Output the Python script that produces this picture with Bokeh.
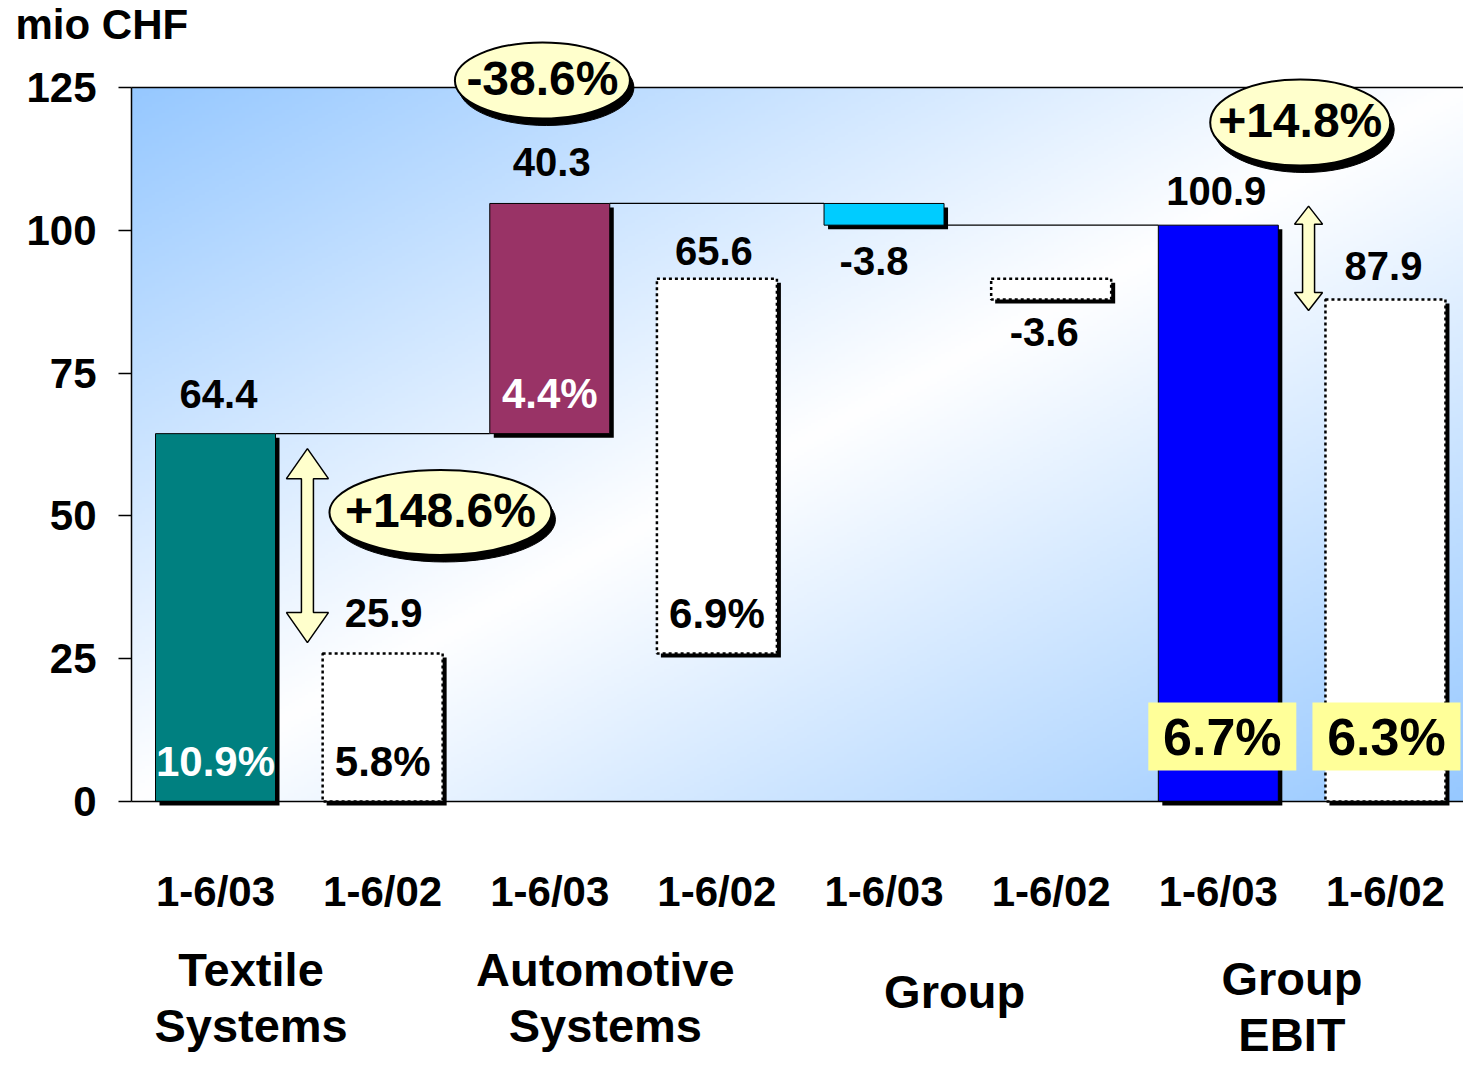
import numpy as np
from bokeh.plotting import figure
from bokeh.models import Range1d, FixedTicker
from bokeh.embed import file_html
from bokeh.resources import INLINE
from bokeh.core.properties import value

# ---------------- data ----------------
segments = ["Textile\nSystems", "Automotive\nSystems", "Group", "Group\nEBIT"]
period_labels = ["1-6/03", "1-6/02"]
ebit_03 = [64.4, 40.3, -3.8, 100.9]      # last one is the total
ebit_02 = [25.9, 65.6, -3.6, 87.9]
margin_03 = ["10.9%", "4.4%", "", "6.7%"]
margin_02 = ["5.8%", "6.9%", "", "6.3%"]
growth = ["+148.6%", "-38.6%", "", "+14.8%"]
y_ticks = [0, 25, 50, 75, 100, 125]
colors_03 = ["#008080", "#993366", "#00CCFF", "#0000FF"]

# ---------------- layout / style ----------------
W, H = 1463, 1068
AX_LEFT_PX, AX_ZERO_PX = 131, 801          # axis position on the canvas
X0, X1 = -0.5026, 7.467                    # data span of the plotting area
PXX = (W - AX_LEFT_PX) / (X1 - X0)         # px per x unit
PXY = 125 / 714.0                          # y units per px
XL = X0 - AX_LEFT_PX / PXX
YB, YT = -(H - AX_ZERO_PX) * PXY, AX_ZERO_PX * PXY
BW = 120 / PXX
FONT = value("Liberation Sans")
FONT_NAME = "Liberation Sans"

# label gaps (px, from bar edge to text centre) and horizontal nudges (px)
gap_03 = [40, 41, 36, 34]
gap_02 = [41, 28, 33, 33]
nudge_03 = [3, 2, -10, -2]
nudge_02 = [1, -3, -7, -2]


def waterfall(vals):
    bottoms, tops, cum = [], [], 0.0
    for i, v in enumerate(vals):
        if i == len(vals) - 1:
            bottoms.append(0.0)
            tops.append(v)
        else:
            bottoms.append(min(cum, cum + v))
            tops.append(max(cum, cum + v))
            cum += v
    return bottoms, tops


def py(pix):
    """canvas pixel row -> data y"""
    return (AX_ZERO_PX - pix) * PXY


b03, t03 = waterfall(ebit_03)
b02, t02 = waterfall(ebit_02)
x03 = [2 * i for i in range(4)]
x02 = [2 * i + 1 for i in range(4)]

p = figure(width=W, height=H, x_range=Range1d(XL, X1), y_range=Range1d(YB, YT),
           output_backend="svg", toolbar_location=None,
           min_border_left=0, min_border_right=0, min_border_top=0, min_border_bottom=0)
p.grid.visible = False
p.outline_line_color = None
p.background_fill_color = "white"
p.border_fill_color = "white"

# gradient background (style only)
nx, ny = 400, 260
u = np.linspace(0, 1, nx)[None, :]
v = np.linspace(1, 0, ny)[:, None]
t = np.clip(np.abs(u + v - 1), 0, 1)
blue = np.array([150, 200, 255], dtype=float)
img = np.empty((ny, nx), dtype=np.uint32)
view = img.view(dtype=np.uint8).reshape((ny, nx, 4))
for k in range(3):
    view[:, :, k] = (255 * (1 - t) + blue[k] * t).astype(np.uint8)
view[:, :, 3] = 255
p.image_rgba(image=[img], x=X0, y=0, dw=X1 - X0, dh=125)

# top border line of the plotting area
p.segment(x0=[X0], y0=[y_ticks[-1]], x1=[X1], y1=[y_ticks[-1]], line_color="black", line_width=1.5)

# connectors for the 1-6/03 waterfall
cx0, cx1, cy = [], [], []
for i in range(3):
    cx0.append(x03[i] + BW / 2)
    cx1.append(x03[i + 1] - BW / 2)
    cy.append(t03[i] if ebit_03[i] >= 0 else b03[i])
p.segment(x0=cx0, y0=cy, x1=cx1, y1=cy, line_color="black", line_width=1.2)

# shadows
sx, sy = 4 / PXX, 4 * PXY
allx = x03 + x02
allb = b03 + b02
allt = t03 + t02
p.quad(left=[x - BW / 2 + sx for x in allx], right=[x + BW / 2 + sx for x in allx],
       bottom=[b - sy for b in allb], top=[tt - sy for tt in allt],
       fill_color="black", line_color=None)

# bars
p.quad(left=[x - BW / 2 for x in x03], right=[x + BW / 2 for x in x03],
       bottom=b03, top=t03, fill_color=colors_03, line_color="black", line_width=1)
p.quad(left=[x - BW / 2 for x in x02], right=[x + BW / 2 for x in x02],
       bottom=b02, top=t02, fill_color="white", line_color="black", line_width=2.5,
       line_dash="3 3")

# value labels
vx, vy, vt = [], [], []
for xs, vals, bs, ts, gaps, nud in ((x03, ebit_03, b03, t03, gap_03, nudge_03),
                                    (x02, ebit_02, b02, t02, gap_02, nudge_02)):
    for x, val, b, tt, g, n in zip(xs, vals, bs, ts, gaps, nud):
        vx.append(x + n / PXX)
        vt.append(f"{val:.1f}")
        vy.append(tt + g * PXY if val >= 0 else b - g * PXY)
p.text(x=vx, y=vy, text=vt, text_font=FONT, text_font_style="bold",
       text_font_size="40px", text_align="center", text_baseline="middle",
       text_color="black")

# margin labels inside bars
mx, my, mt, mc = [], [], [], []
for i in range(3):
    for x, m, b, col in ((x03[i], margin_03[i], b03[i], "white"), (x02[i], margin_02[i], b02[i], "black")):
        if m:
            mx.append(x)
            my.append(b + 40 * PXY)
            mt.append(m)
            mc.append(col)
p.text(x=mx, y=my, text=mt, text_font=FONT, text_font_style="bold",
       text_font_size="42px", text_align="center", text_baseline="middle",
       text_color=mc)

# EBIT margin boxes
ex = [x03[3] + 4 / PXX, x02[3] + 1 / PXX]
ey = [b03[3] + 65 * PXY, b02[3] + 65 * PXY]
p.rect(x=ex, y=ey, width=148, height=68, width_units="screen", height_units="screen",
       fill_color="#FFFF99", line_color=None)
p.text(x=ex, y=ey, text=[margin_03[3], margin_02[3]], text_font=FONT,
       text_font_style="bold", text_font_size="52px", text_align="center",
       text_baseline="middle", text_color="black")

# double arrows
def arrow(cx, ytop, ybot, hs=6, hh=21, hl=30):
    hs, hh = hs / PXX, hh / PXX
    hl = hl * PXY
    xs = [cx, cx + hh, cx + hs, cx + hs, cx + hh, cx, cx - hh, cx - hs, cx - hs, cx - hh]
    ys = [ytop, ytop - hl, ytop - hl, ybot + hl, ybot + hl, ybot, ybot + hl, ybot + hl, ytop - hl, ytop - hl]
    return xs, ys

a1 = arrow(x03[0] + 0.55, t03[0] - 15 * PXY, t02[0] + 11 * PXY)
a2 = arrow(x03[3] + 0.54, t03[3] + 19 * PXY, t02[3] - 11 * PXY, hs=6, hh=14, hl=18)
p.patches(xs=[a1[0], a2[0]], ys=[a1[1], a2[1]], fill_color="#FFFFCC",
          line_color="black", line_width=1.5)

# growth callouts
cxs = [x02[0] + 0.346, x03[1] - 0.044, x03[3] + 0.49]
cys = [py(512), py(80), py(122)]
cws = [222, 175, 180]
chs = [85, 76, 86]
ctx = [growth[0], growth[1], growth[3]]
p.ellipse(x=[c + 4 / PXX for c in cxs], y=[c - 7 * PXY for c in cys], width=cws, height=chs,
          width_units="screen", height_units="screen", fill_color="black", line_color="black")
p.ellipse(x=cxs, y=cys, width=cws, height=chs, width_units="screen", height_units="screen",
          fill_color="#FFFFCC", line_color="black", line_width=2)
p.text(x=cxs, y=[c + 2 * PXY for c in cys], text=ctx, text_font=FONT, text_font_style="bold",
       text_font_size="48px", text_align="center", text_baseline="middle", text_color="black")

# axes (fixed inside the full-canvas frame)
p.yaxis.fixed_location = X0
p.yaxis.ticker = FixedTicker(ticks=y_ticks)
p.yaxis.bounds = (0, 125)
p.yaxis.major_tick_out = 13
p.yaxis.major_tick_in = 0
p.yaxis.minor_tick_line_color = None
p.yaxis.axis_line_width = 1.5
p.yaxis.major_tick_line_width = 1.5
p.yaxis.major_label_standoff = 22
p.yaxis.major_label_text_font = FONT_NAME
p.yaxis.major_label_text_font_style = "bold"
p.yaxis.major_label_text_font_size = "42px"
p.yaxis.major_label_text_color = "black"

p.xaxis.fixed_location = 0
p.xaxis.bounds = (X0, X1)
p.xaxis.ticker = FixedTicker(ticks=list(range(8)))
p.xaxis.major_label_overrides = {i: period_labels[i % 2] for i in range(8)}
p.xaxis.major_tick_line_color = None
p.xaxis.minor_tick_line_color = None
p.xaxis.axis_line_width = 1.5
p.xaxis.major_label_standoff = 60
p.xaxis.major_label_text_font = FONT_NAME
p.xaxis.major_label_text_font_style = "bold"
p.xaxis.major_label_text_font_size = "42px"
p.xaxis.major_label_text_color = "black"

# group labels (one text per line)
gnudge = [-48, -28, -13, -10]
gfirst = [969, 969, 991, 978]
LINE = 56
gx, gy, gt = [], [], []
for i, seg in enumerate(segments):
    for j, line in enumerate(seg.split("\n")):
        gx.append((x03[i] + x02[i]) / 2 + gnudge[i] / PXX)
        gy.append(py(gfirst[i] + j * LINE))
        gt.append(line)
p.text(x=gx, y=gy, text=gt, text_font=FONT, text_font_style="bold",
       text_font_size="47px", text_align="center", text_baseline="middle", text_color="black")

p.text(x=[XL + 15 / PXX], y=[py(24)], text=["mio CHF"], text_font=FONT,
       text_font_style="bold", text_font_size="42px", text_align="left",
       text_baseline="middle", text_color="black")

open("out.html", "w").write(file_html(p, INLINE))
